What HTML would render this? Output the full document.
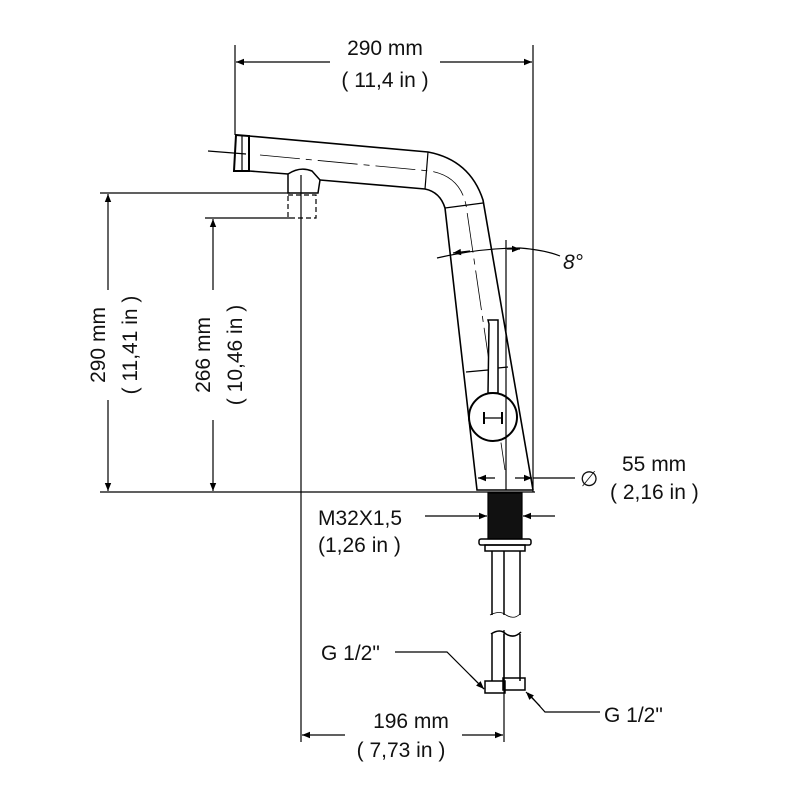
<!DOCTYPE html>
<html><head><style>
body{margin:0;background:#fff}
svg{display:block}
text{font-family:"Liberation Sans",sans-serif;font-size:21px;fill:#111}
</style></head><body>
<svg width="800" height="800" viewBox="0 0 800 800" xmlns="http://www.w3.org/2000/svg">
<defs>
<marker id="a" viewBox="0 0 10 10" refX="10" refY="5" markerWidth="16" markerHeight="8" markerUnits="userSpaceOnUse" orient="auto-start-reverse"><path d="M0,1 L10,5 L0,9z" fill="#000"/></marker>
</defs>
<g stroke="#000" stroke-width="1.2" fill="none">
<line x1="235" y1="45" x2="235" y2="135"/>
<line x1="533" y1="45" x2="533" y2="492"/>
<line x1="236" y1="62" x2="330" y2="62" marker-start="url(#a)"/>
<line x1="440" y1="62" x2="532" y2="62" marker-end="url(#a)"/>
<line x1="100" y1="193" x2="290" y2="193"/>
<line x1="205" y1="218" x2="290" y2="218"/>
<line x1="100" y1="492" x2="535" y2="492"/>
<line x1="108" y1="194" x2="108" y2="290" marker-start="url(#a)"/>
<line x1="108" y1="400" x2="108" y2="491" marker-end="url(#a)"/>
<line x1="213" y1="219" x2="213" y2="290" marker-start="url(#a)"/>
<line x1="213" y1="420" x2="213" y2="491" marker-end="url(#a)"/>
<line x1="301" y1="175" x2="301" y2="742"/>
<line x1="208" y1="151" x2="246" y2="154"/>
<path d="M236,135 L249,136 L249,171 L234,171z" stroke-width="2"/>
<line x1="242" y1="136" x2="242" y2="171"/>
<path d="M249,136 L428,152 Q470,160 483,200 L533,490" stroke-width="1.6"/>
<path d="M249,171 L288,174 M320,180 L425,189 Q440,192 445,208 L477,490 L533,490" stroke-width="1.6"/>
<line x1="428" y1="152" x2="425" y2="189"/>
<path d="M260,155 L430,171 Q460,176 466,205 L505,470" stroke-dasharray="40,6,6,6" stroke-width="0.8"/>
<line x1="445" y1="208" x2="483" y2="203"/>
<path d="M288,174 Q300,166 312,171 L320,180 L318,193 L288,193z" stroke-width="1.5"/>
<rect x="288" y="195" width="28" height="23" stroke-dasharray="5,3"/>
<path d="M488,320 L489,324 L488,393 L498,393 L498,320z" fill="#fff" stroke-width="1.5"/>
<line x1="466" y1="372" x2="488" y2="370"/>
<line x1="498" y1="368" x2="508" y2="367"/>
<circle cx="493" cy="417" r="24" fill="#fff" stroke-width="2"/>
<line x1="484" y1="418" x2="502" y2="418"/>
<line x1="484" y1="412" x2="484" y2="424" stroke-width="2"/>
<line x1="502" y1="412" x2="502" y2="424" stroke-width="2"/>
<line x1="506" y1="240" x2="506" y2="490"/>
<path d="M437,258 Q480,248 520,248 Q545,250 560,256"/>
<line x1="453" y1="253" x2="470" y2="251" marker-start="url(#a)"/>
<line x1="507" y1="249" x2="520" y2="249" marker-end="url(#a)"/>
<line x1="478" y1="478" x2="495" y2="478" marker-start="url(#a)"/>
<line x1="515" y1="478" x2="532" y2="478" marker-end="url(#a)"/>
<line x1="533" y1="478" x2="575" y2="478"/>
<rect x="488" y="493" width="34" height="46" fill="#111"/>
<line x1="425" y1="516" x2="487" y2="516" marker-end="url(#a)"/>
<line x1="523" y1="516" x2="555" y2="516" marker-start="url(#a)"/>
<rect x="479" y="539" width="52" height="6" rx="2" stroke-width="1.5"/>
<rect x="485" y="545" width="40" height="6" stroke-width="1.5"/>
<path d="M492,551 L492,615 M504,551 L504,615 M520,551 L520,615" stroke-width="1.5"/>
<path d="M490,615 Q500,610 506,615 Q514,620 520,614" stroke-width="0.8"/>
<path d="M491,634 Q500,628 506,634 Q514,639 521,632 M492,634 L492,681 M504,634 L504,681 M520,634 L520,681" stroke-width="1.5"/>
<rect x="485" y="681" width="20" height="12" stroke-width="1.5"/>
<rect x="503" y="678" width="22" height="12" stroke-width="1.5"/>
<path d="M395,652 L447,652 L484,689"/>
<line x1="470" y1="675" x2="484" y2="689" marker-end="url(#a)"/>
<path d="M528,693 L545,712 L600,712"/>
<line x1="540" y1="706" x2="526" y2="692" marker-end="url(#a)"/>
<line x1="504" y1="630" x2="504" y2="742"/>
<line x1="302" y1="735" x2="345" y2="735" marker-start="url(#a)"/>
<line x1="462" y1="735" x2="503" y2="735" marker-end="url(#a)"/>
</g>
<text x="385" y="55" text-anchor="middle">290 mm</text>
<text x="385" y="87" text-anchor="middle">( 11,4 in )</text>
<text transform="translate(105,345) rotate(-90)" text-anchor="middle">290 mm</text>
<text transform="translate(137,345) rotate(-90)" text-anchor="middle">( 11,41 in )</text>
<text transform="translate(210,355) rotate(-90)" text-anchor="middle">266 mm</text>
<text transform="translate(242,355) rotate(-90)" text-anchor="middle">( 10,46 in )</text>
<text x="563" y="269" font-style="italic">8°</text>
<text x="580" y="486" font-size="24">∅</text>
<text x="622" y="471">55 mm</text>
<text x="610" y="499">( 2,16 in )</text>
<text x="318" y="525">M32X1,5</text>
<text x="318" y="552">(1,26 in )</text>
<text x="321" y="660">G 1/2"</text>
<text x="604" y="722">G 1/2"</text>
<text x="411" y="728" text-anchor="middle">196 mm</text>
<text x="401" y="757" text-anchor="middle">( 7,73 in )</text>
</svg>
</body></html>
